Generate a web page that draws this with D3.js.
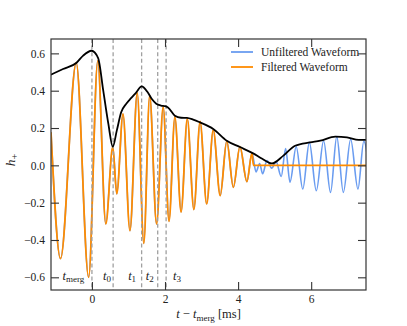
<!DOCTYPE html>
<html>
<head>
<meta charset="utf-8">
<script src="https://cdn.jsdelivr.net/npm/d3@7"></script>
<style>
  body { margin: 0; background: #fff; }
  svg { display: block; }
  text { font-family: "Liberation Serif", "DejaVu Serif", serif; fill: #222; }
</style>
</head>
<body>
<svg id="chart" width="407" height="326"></svg>
<script>
// waveform extrema (t in ms, h dimensionless)
const waveT = [-1.12, -0.86, -0.43, -0.09, 0.16, 0.38, 0.57, 0.68, 0.85, 1.04, 1.24, 1.42, 1.58, 1.77,
    1.95, 2.11, 2.27, 2.44, 2.61, 2.79, 2.96, 3.14, 3.32, 3.51, 3.69, 3.87, 4.05, 4.24, 4.38,
    4.49, 4.59, 4.67, 4.79, 4.92, 5.04, 5.18, 5.30, 5.42, 5.59, 5.77, 5.95, 6.14, 6.34, 6.53,
    6.70, 6.88, 7.08, 7.28, 7.44, 7.63];
const waveH = [0.177, -0.50, 0.55, -0.60, 0.56, -0.314, 0.10, -0.153, 0.275, -0.35, 0.388, -0.418, 0.373, -0.314,
    0.314, -0.30, 0.26, -0.25, 0.25, -0.237, 0.235, -0.207, 0.19, -0.162, 0.13, -0.118, 0.10, -0.087, 0.066,
    -0.035, 0.01, -0.045, 0.025, -0.015, 0.02, -0.06, 0.09, -0.09, 0.10, -0.127, 0.123, -0.136, 0.132, -0.145,
    0.154, -0.145, 0.14, -0.127, 0.129, -0.12];
// filtered waveform follows the unfiltered one, then is zero after the cut
const filterCutT = 4.42;

// black envelope
const envT = [-1.12, -0.79, -0.42, -0.24, -0.01, 0.17, 0.31, 0.45, 0.57, 0.68, 0.80, 0.94, 1.07, 1.21, 1.36,
    1.53, 1.64, 1.76, 1.89, 2.00, 2.08, 2.27, 2.44, 2.60, 2.77, 2.96, 3.32, 3.69, 4.05, 4.41, 4.66, 4.92,
    5.24, 5.56, 5.97, 6.25, 6.66, 6.98, 7.30, 7.51];
const envH = [0.486, 0.516, 0.55, 0.588, 0.614, 0.575, 0.40, 0.222, 0.10, 0.186, 0.284, 0.33, 0.36, 0.39, 0.423,
    0.39, 0.355, 0.33, 0.32, 0.317, 0.31, 0.266, 0.255, 0.254, 0.245, 0.23, 0.195, 0.132, 0.098, 0.064, 0.035, 0.01,
    0.052, 0.105, 0.123, 0.132, 0.154, 0.15, 0.136, 0.136];

// marker times
const markT = [0, 0.58, 1.36, 1.80, 2.03];
const markSub = ["merg", "0", "1", "2", "3"];

const xTicks = [0, 2, 4, 6];
const yTicks = [-0.6, -0.4, -0.2, 0.0, 0.2, 0.4, 0.6];
const legendLabels = ["Unfiltered Waveform", "Filtered Waveform"];
const colors = { unfiltered: "#6a9cf0", filtered: "#ff8c00", env: "#000" };

// ---- layout
const plot = { left: 51, right: 366, top: 39, bottom: 290 };
const svg = d3.select("#chart");

const x = d3.scaleLinear().domain([-1.12, 7.5]).range([plot.left, plot.right]);
const y = d3.scaleLinear().domain([-0.668, 0.677]).range([plot.bottom, plot.top]);

svg.append("clipPath").attr("id", "clip")
    .append("rect")
    .attr("x", plot.left).attr("y", plot.top)
    .attr("width", plot.right - plot.left).attr("height", plot.bottom - plot.top);

const unfiltered = waveT.map((t, i) => [t, waveH[i]]);
let filtered = unfiltered.filter(d => d[0] < filterCutT);
filtered = filtered.concat([[filterCutT, 0], [x.domain()[1], 0]]);
const envelope = envT.map((t, i) => [t, envH[i]]);

const line = d3.line()
    .x(d => x(d[0]))
    .y(d => y(d[1]))
    .curve(d3.curveMonotoneX);

const g = svg.append("g").attr("clip-path", "url(#clip)");

g.append("path").datum(unfiltered)
    .attr("d", line).attr("fill", "none")
    .attr("stroke", colors.unfiltered).attr("stroke-width", 1.6);

g.append("path").datum(filtered)
    .attr("d", line).attr("fill", "none")
    .attr("stroke", colors.filtered).attr("stroke-width", 1.8);

g.selectAll("line.mark").data(markT).enter()
    .append("line").attr("class", "mark")
    .attr("x1", d => x(d)).attr("x2", d => x(d))
    .attr("y1", plot.top).attr("y2", plot.bottom)
    .attr("stroke", "#a0a0a0").attr("stroke-width", 1.3)
    .attr("stroke-dasharray", "4,2.6");

g.append("path").datum(envelope)
    .attr("d", line).attr("fill", "none")
    .attr("stroke", colors.env).attr("stroke-width", 1.8);

// marker labels: nudge relative to each line (px)
const labelNudge = [-29.5, -10, -13.5, -12, 7];
const labels = svg.selectAll("text.mark").data(markT).enter()
    .append("text").attr("class", "mark")
    .attr("x", (d, i) => x(d) + labelNudge[i])
    .attr("y", 279.5)
    .style("font-size", "12.5px");
labels.append("tspan").style("font-style", "italic").text("t");
labels.append("tspan").attr("dy", 2.5).style("font-size", "9px").text((d, i) => markSub[i]);

// ---- axes (inward ticks, mirrored)
const tickLen = 8;
const styleAxis = sel => {
    sel.select(".domain").remove();
    sel.selectAll(".tick line").attr("stroke", "#333").attr("stroke-width", 1.1);
    sel.selectAll(".tick text").style("font-size", "11.5px").attr("fill", "#222");
};
const fmtY = d => d3.format(".1f")(d).replace("-", "\u2212");

svg.append("g").attr("transform", `translate(0,${plot.bottom})`)
    .call(d3.axisBottom(x).tickValues(xTicks).tickSizeInner(-tickLen).tickSizeOuter(0).tickPadding(5).tickFormat(d3.format("d")))
    .call(styleAxis);
svg.append("g").attr("transform", `translate(0,${plot.top})`)
    .call(d3.axisTop(x).tickValues(xTicks).tickSizeInner(-tickLen).tickSizeOuter(0).tickFormat(""))
    .call(styleAxis);
svg.append("g").attr("transform", `translate(${plot.left},0)`)
    .call(d3.axisLeft(y).tickValues(yTicks).tickSizeInner(-tickLen).tickSizeOuter(0).tickPadding(6).tickFormat(fmtY))
    .call(styleAxis);
svg.append("g").attr("transform", `translate(${plot.right},0)`)
    .call(d3.axisRight(y).tickValues(yTicks).tickSizeInner(-tickLen).tickSizeOuter(0).tickFormat(""))
    .call(styleAxis);

svg.append("rect")
    .attr("x", plot.left).attr("y", plot.top)
    .attr("width", plot.right - plot.left).attr("height", plot.bottom - plot.top)
    .attr("fill", "none").attr("stroke", "#333").attr("stroke-width", 1.2);

// axis titles
const xt = svg.append("text")
    .attr("x", (plot.left + plot.right) / 2).attr("y", 318)
    .attr("text-anchor", "middle").style("font-size", "12.5px");
xt.append("tspan").style("font-style", "italic").text("t");
xt.append("tspan").text(" \u2212 ");
xt.append("tspan").style("font-style", "italic").text("t");
xt.append("tspan").attr("dy", 2.5).style("font-size", "9px").text("merg");
xt.append("tspan").attr("dy", -2.5).text(" [ms]");

const yt = svg.append("text")
    .attr("transform", "translate(15,160) rotate(-90)")
    .attr("text-anchor", "middle").style("font-size", "13.5px");
yt.append("tspan").style("font-style", "italic").text("h");
yt.append("tspan").attr("dy", 3).style("font-size", "10px").text("+");

// legend
const legend = svg.append("g").attr("transform", "translate(231,52)");
const items = legend.selectAll("g").data(legendLabels).enter()
    .append("g").attr("transform", (d, i) => `translate(0,${i * 15})`);
items.append("line").attr("x1", 0).attr("x2", 22)
    .attr("stroke", (d, i) => i === 0 ? colors.unfiltered : colors.filtered)
    .attr("stroke-width", 1.8);
items.append("text").attr("x", 30).attr("y", 3.5)
    .style("font-size", "11.5px").text(d => d);
</script>
</body>
</html>
